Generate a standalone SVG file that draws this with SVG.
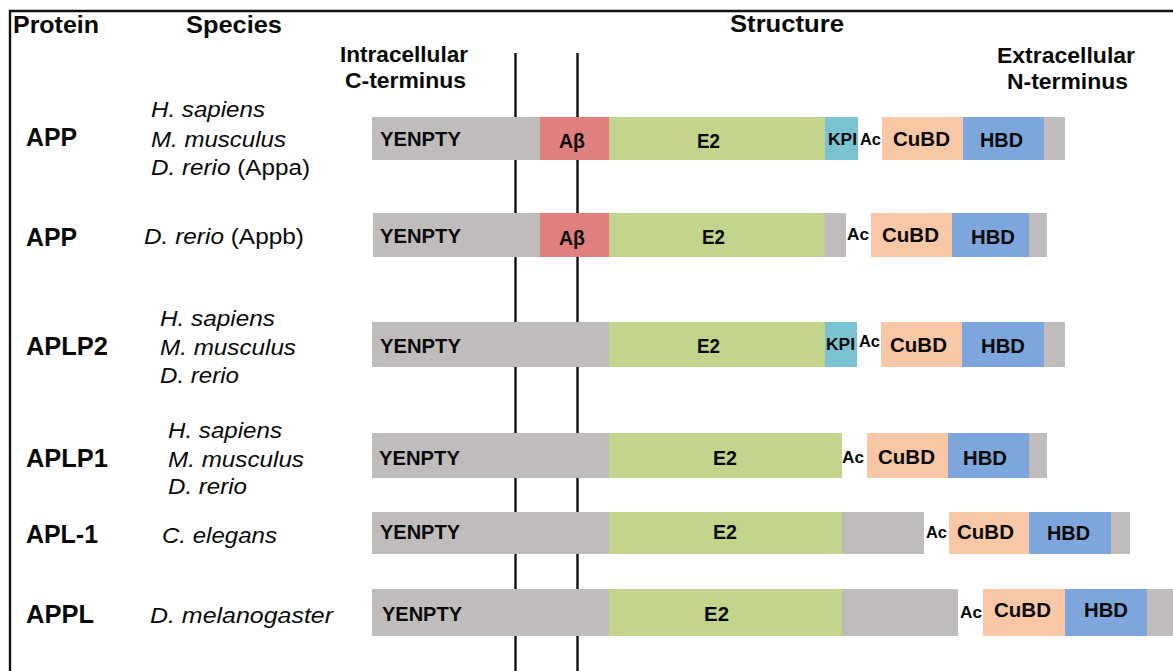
<svg xmlns="http://www.w3.org/2000/svg" width="1173" height="671" viewBox="0 0 1173 671">
<style>
text{fill:#0a0a0a;font-family:"Liberation Sans",Arial,sans-serif}
.h{font-weight:bold;font-size:23px}
.t{font-weight:bold;font-size:22px}
.p{font-weight:bold;font-size:25px}
.s{font-style:italic;font-size:22px}
.sn{font-style:normal}
.d{font-weight:bold;font-size:20px}
.c{font-weight:bold;font-size:21px}
.k{font-weight:bold;font-size:16px}
.a{font-weight:bold;font-size:17px}
.g{fill:#bfbcbb}
.ab{fill:#df7f7e}
.e2{fill:#c3d58c}
.kpi{fill:#7bc3d3}
.cu{fill:#f8c8a6}
.hbd{fill:#7ca6dc}
.ln{stroke:#111;stroke-width:2.4;fill:none}
</style>
<rect width="1173" height="671" fill="#fff"/>
<path class="ln" d="M10,671 V11 H1173"/>
<g id="headers">
<text class="h" x="13" y="33" textLength="86" lengthAdjust="spacingAndGlyphs">Protein</text>
<text class="h" x="186" y="33" textLength="96" lengthAdjust="spacingAndGlyphs">Species</text>
<text class="h" x="730" y="32" textLength="114" lengthAdjust="spacingAndGlyphs">Structure</text>
<text class="t" x="340" y="62" textLength="128" lengthAdjust="spacingAndGlyphs">Intracellular</text>
<text class="t" x="345" y="88" textLength="121" lengthAdjust="spacingAndGlyphs">C-terminus</text>
<text class="t" x="997" y="63" textLength="138" lengthAdjust="spacingAndGlyphs">Extracellular</text>
<text class="t" x="1007" y="89" textLength="121" lengthAdjust="spacingAndGlyphs">N-terminus</text>
</g>
<g id="connectors">
<line class="ln" x1="515.5" y1="53" x2="515.5" y2="671"/>
<line class="ln" x1="577.5" y1="53" x2="577.5" y2="671"/>
</g>
<g id="row-app-a">
<text class="p" x="26" y="146" textLength="51" lengthAdjust="spacingAndGlyphs">APP</text>
<text class="s" x="151" y="117" textLength="114" lengthAdjust="spacingAndGlyphs">H. sapiens</text>
<text class="s" x="151" y="147" textLength="135" lengthAdjust="spacingAndGlyphs">M. musculus</text>
<text class="s" x="151" y="175" textLength="159" lengthAdjust="spacingAndGlyphs">D. rerio <tspan class="sn">(Appa)</tspan></text>
<rect class="g" x="372" y="117" width="168" height="43"/>
<rect class="ab" x="540" y="117" width="69" height="43"/>
<rect class="e2" x="609" y="117" width="216" height="43"/>
<rect class="kpi" x="825" y="117" width="33" height="43"/>
<rect class="cu" x="882" y="117" width="81" height="43"/>
<rect class="hbd" x="963" y="117" width="81" height="43"/>
<rect class="g" x="1044" y="117" width="21" height="43"/>
<text class="d" x="380" y="146" textLength="81" lengthAdjust="spacingAndGlyphs">YENPTY</text>
<text class="d" x="559" y="148" textLength="26" lengthAdjust="spacingAndGlyphs">Aβ</text>
<text class="d" x="697" y="148" textLength="23" lengthAdjust="spacingAndGlyphs">E2</text>
<text class="k" x="828" y="145" textLength="29" lengthAdjust="spacingAndGlyphs">KPI</text>
<text class="a" x="860" y="145" textLength="21" lengthAdjust="spacingAndGlyphs">Ac</text>
<text class="c" x="893" y="146" textLength="57" lengthAdjust="spacingAndGlyphs">CuBD</text>
<text class="c" x="980" y="147" textLength="43" lengthAdjust="spacingAndGlyphs">HBD</text>
</g>
<g id="row-app-b">
<text class="p" x="26" y="246" textLength="51" lengthAdjust="spacingAndGlyphs">APP</text>
<text class="s" x="144" y="244" textLength="160" lengthAdjust="spacingAndGlyphs">D. rerio <tspan class="sn">(Appb)</tspan></text>
<rect class="g" x="373" y="213" width="167" height="44"/>
<rect class="ab" x="540" y="213" width="69" height="44"/>
<rect class="e2" x="609" y="213" width="216" height="44"/>
<rect class="g" x="825" y="213" width="21" height="44"/>
<rect class="cu" x="871" y="213" width="81" height="44"/>
<rect class="hbd" x="952" y="213" width="77" height="44"/>
<rect class="g" x="1029" y="213" width="18" height="44"/>
<text class="d" x="380" y="243" textLength="81" lengthAdjust="spacingAndGlyphs">YENPTY</text>
<text class="d" x="559" y="245" textLength="26" lengthAdjust="spacingAndGlyphs">Aβ</text>
<text class="d" x="702" y="244" textLength="23" lengthAdjust="spacingAndGlyphs">E2</text>
<text class="a" x="847" y="240" textLength="22" lengthAdjust="spacingAndGlyphs">Ac</text>
<text class="c" x="882" y="242" textLength="57" lengthAdjust="spacingAndGlyphs">CuBD</text>
<text class="c" x="971" y="244" textLength="44" lengthAdjust="spacingAndGlyphs">HBD</text>
</g>
<g id="row-aplp2">
<text class="p" x="26" y="355" textLength="82" lengthAdjust="spacingAndGlyphs">APLP2</text>
<text class="s" x="160" y="326" textLength="115" lengthAdjust="spacingAndGlyphs">H. sapiens</text>
<text class="s" x="160" y="355" textLength="136" lengthAdjust="spacingAndGlyphs">M. musculus</text>
<text class="s" x="160" y="383" textLength="79" lengthAdjust="spacingAndGlyphs">D. rerio</text>
<rect class="g" x="372" y="322" width="237" height="45"/>
<rect class="e2" x="609" y="322" width="216" height="45"/>
<rect class="kpi" x="825" y="322" width="32" height="45"/>
<rect class="cu" x="881" y="322" width="81" height="45"/>
<rect class="hbd" x="962" y="322" width="82" height="45"/>
<rect class="g" x="1044" y="322" width="21" height="45"/>
<text class="d" x="380" y="353" textLength="81" lengthAdjust="spacingAndGlyphs">YENPTY</text>
<text class="d" x="697" y="353" textLength="23" lengthAdjust="spacingAndGlyphs">E2</text>
<text class="k" x="826" y="350" textLength="29" lengthAdjust="spacingAndGlyphs">KPI</text>
<text class="a" x="859" y="347" textLength="21" lengthAdjust="spacingAndGlyphs">Ac</text>
<text class="c" x="890" y="352" textLength="57" lengthAdjust="spacingAndGlyphs">CuBD</text>
<text class="c" x="981" y="353" textLength="44" lengthAdjust="spacingAndGlyphs">HBD</text>
</g>
<g id="row-aplp1">
<text class="p" x="26" y="467" textLength="82" lengthAdjust="spacingAndGlyphs">APLP1</text>
<text class="s" x="168" y="438" textLength="114" lengthAdjust="spacingAndGlyphs">H. sapiens</text>
<text class="s" x="168" y="467" textLength="136" lengthAdjust="spacingAndGlyphs">M. musculus</text>
<text class="s" x="168" y="494" textLength="79" lengthAdjust="spacingAndGlyphs">D. rerio</text>
<rect class="g" x="372" y="433" width="237" height="45"/>
<rect class="e2" x="609" y="433" width="233" height="45"/>
<rect class="cu" x="867" y="433" width="81" height="45"/>
<rect class="hbd" x="948" y="433" width="81" height="45"/>
<rect class="g" x="1029" y="433" width="18" height="45"/>
<text class="d" x="379" y="465" textLength="81" lengthAdjust="spacingAndGlyphs">YENPTY</text>
<text class="d" x="713" y="465" textLength="24" lengthAdjust="spacingAndGlyphs">E2</text>
<text class="a" x="842" y="463" textLength="22" lengthAdjust="spacingAndGlyphs">Ac</text>
<text class="c" x="878" y="464" textLength="57" lengthAdjust="spacingAndGlyphs">CuBD</text>
<text class="c" x="963" y="465" textLength="44" lengthAdjust="spacingAndGlyphs">HBD</text>
</g>
<g id="row-apl1">
<text class="p" x="26" y="543" textLength="72" lengthAdjust="spacingAndGlyphs">APL-1</text>
<text class="s" x="162" y="543" textLength="115" lengthAdjust="spacingAndGlyphs">C. elegans</text>
<rect class="g" x="372" y="512" width="237" height="42"/>
<rect class="e2" x="609" y="512" width="233" height="42"/>
<rect class="g" x="842" y="512" width="82" height="42"/>
<rect class="cu" x="949" y="512" width="80" height="42"/>
<rect class="hbd" x="1029" y="512" width="82" height="42"/>
<rect class="g" x="1111" y="512" width="19" height="42"/>
<text class="d" x="380" y="539" textLength="80" lengthAdjust="spacingAndGlyphs">YENPTY</text>
<text class="d" x="713" y="539" textLength="24" lengthAdjust="spacingAndGlyphs">E2</text>
<text class="a" x="926" y="538" textLength="21" lengthAdjust="spacingAndGlyphs">Ac</text>
<text class="c" x="957" y="539" textLength="57" lengthAdjust="spacingAndGlyphs">CuBD</text>
<text class="c" x="1047" y="540" textLength="43" lengthAdjust="spacingAndGlyphs">HBD</text>
</g>
<g id="row-appl">
<text class="p" x="26" y="623" textLength="68" lengthAdjust="spacingAndGlyphs">APPL</text>
<text class="s" x="150" y="623" textLength="183" lengthAdjust="spacingAndGlyphs">D. melanogaster</text>
<rect class="g" x="372" y="589" width="237" height="47"/>
<rect class="e2" x="609" y="589" width="233" height="47"/>
<rect class="g" x="842" y="589" width="116" height="47"/>
<rect class="cu" x="983" y="589" width="82" height="47"/>
<rect class="hbd" x="1065" y="589" width="82" height="47"/>
<rect class="g" x="1147" y="589" width="26" height="47"/>
<text class="d" x="382" y="621" textLength="80" lengthAdjust="spacingAndGlyphs">YENPTY</text>
<text class="d" x="704" y="621" textLength="25" lengthAdjust="spacingAndGlyphs">E2</text>
<text class="a" x="960" y="618" textLength="22" lengthAdjust="spacingAndGlyphs">Ac</text>
<text class="c" x="994" y="617" textLength="57" lengthAdjust="spacingAndGlyphs">CuBD</text>
<text class="c" x="1084" y="617" textLength="44" lengthAdjust="spacingAndGlyphs">HBD</text>
</g>
</svg>
